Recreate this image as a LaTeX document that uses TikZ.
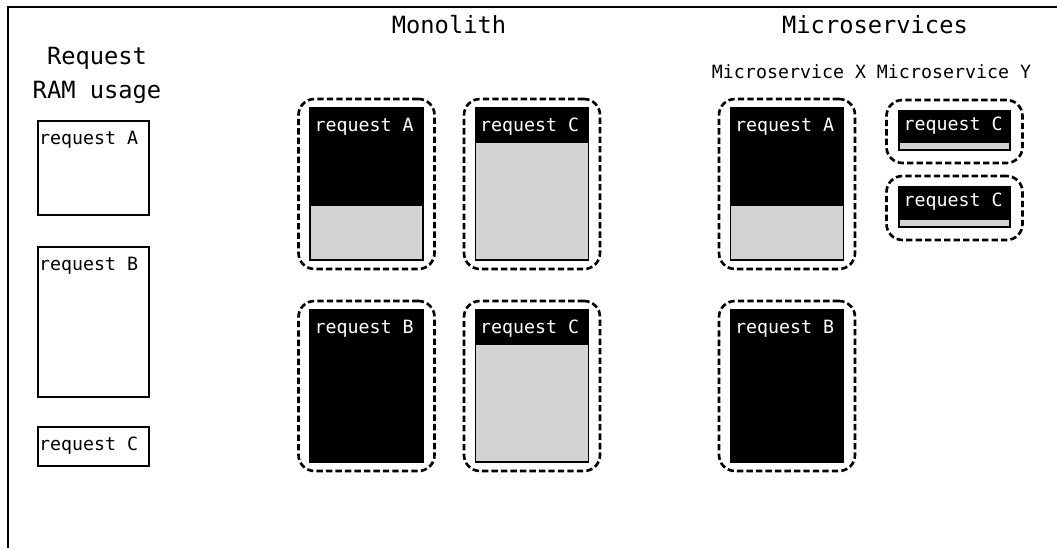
\documentclass[tikz,border=0pt]{standalone}
\usepackage{fontspec}
\setmainfont{DejaVu Sans Mono}
\usepackage{tikz}
\usetikzlibrary{positioning}
\definecolor{memgray}{HTML}{D3D3D3}

\begin{document}
\begin{tikzpicture}[
    heading/.style={font=\fontsize{13.5}{19.8}\selectfont, align=center, inner sep=0pt},
    subheading/.style={font=\fontsize{10.4}{12.5}\selectfont, inner sep=0pt},
    usage/.style={rectangle, draw=black, line width=1.1pt, fill=white,
                  minimum width=2.22cm, minimum height=#1, inner sep=0pt},
    ram/.style={rectangle, draw=black, line width=1.1pt, fill=memgray,
                minimum width=2.26cm, minimum height=#1, inner sep=0pt},
    used/.style={rectangle, draw=black, line width=1.1pt, fill=black,
                 minimum width=2.26cm, minimum height=#1, inner sep=0pt},
    service/.style={rectangle, rounded corners=0.32cm, draw=black, line width=1.5pt,
                    dash pattern=on 3.6pt off 1.8pt, minimum width=2.72cm, minimum height=#1},
    reqlabel/.style={anchor=north west, text=#1, inner xsep=3pt, inner ysep=6pt,
                     font=\fontsize{10.4}{12.5}\selectfont},
]
    \useasboundingbox (0,0) rectangle (21.14,10.96);

    % Frame
    \draw[line width=1.1pt] (0.16,0) -- (0.16,10.82) -- (21.14,10.82);

    % Request RAM usage
    \node[heading] (usagetitle) at (1.94,9.45) {Request\\RAM usage};
    \node[usage=1.88cm] (usageA) at (1.87,7.60) {};
    \node[usage=3.0cm] (usageB) at (1.87,4.52) {};
    \node[usage=0.78cm] (usageC) at (1.87,2.03) {};
    \node[reqlabel=black, inner xsep=1pt] (usageAtxt) at (usageA.north west) {request A};
    \node[reqlabel=black, inner xsep=1pt] (usageBtxt) at (usageB.north west) {request B};
    \node[reqlabel=black, inner xsep=1pt] (usageCtxt) at (usageC.north west) {request C};

    % Monolith
    \node[heading] (monotitle) at (8.98,10.46) {Monolith};

    \node[service=3.4cm] (monoAsvc) at (7.33,7.28) {};
    \node[ram=3.04cm] (monoA) at (7.33,7.28) {};
    \node[used=1.94cm, anchor=north] (monoAuse) at (monoA.north) {};
    \node[reqlabel=white] (monoAtxt) at (monoA.north west) {request A};

    \node[service=3.4cm] (monoCsvc) at (10.64,7.28) {};
    \node[ram=3.04cm] (monoC) at (10.64,7.28) {};
    \node[used=0.68cm, anchor=north] (monoCuse) at (monoC.north) {};
    \node[reqlabel=white] (monoCtxt) at (monoC.north west) {request C};

    \node[service=3.4cm] (monoBsvc) at (7.33,3.24) {};
    \node[used=3.04cm] (monoB) at (7.33,3.24) {};
    \node[reqlabel=white] (monoBtxt) at (monoB.north west) {request B};

    \node[service=3.4cm] (monoC2svc) at (10.64,3.24) {};
    \node[ram=3.04cm] (monoC2) at (10.64,3.24) {};
    \node[used=0.68cm, anchor=north] (monoC2use) at (monoC2.north) {};
    \node[reqlabel=white] (monoC2txt) at (monoC2.north west) {request C};

    % Microservices
    \node[heading] (mstitle) at (17.5,10.46) {Microservices};
    \node[subheading] (msXtitle) at (15.78,9.52) {Microservice X};
    \node[subheading] (msYtitle) at (19.08,9.52) {Microservice Y};

    \node[service=3.4cm] (msXAsvc) at (15.74,7.28) {};
    \node[ram=3.04cm] (msXA) at (15.74,7.28) {};
    \node[used=1.94cm, anchor=north] (msXAuse) at (msXA.north) {};
    \node[reqlabel=white] (msXAtxt) at (msXA.north west) {request A};

    \node[service=3.4cm] (msXBsvc) at (15.74,3.24) {};
    \node[used=3.04cm] (msXB) at (15.74,3.24) {};
    \node[reqlabel=white] (msXBtxt) at (msXB.north west) {request B};

    \node[service=1.26cm] (msYCsvc) at (19.09,8.33) {};
    \node[ram=0.78cm, minimum width=2.22cm] (msYC) at (19.09,8.35) {};
    \node[used=0.62cm, minimum width=2.22cm, anchor=north] (msYCuse) at (msYC.north) {};
    \node[reqlabel=white, inner ysep=4pt] (msYCtxt) at (msYC.north west) {request C};

    \node[service=1.28cm] (msYC2svc) at (19.09,6.80) {};
    \node[ram=0.8cm, minimum width=2.22cm] (msYC2) at (19.09,6.82) {};
    \node[used=0.64cm, minimum width=2.22cm, anchor=north] (msYC2use) at (msYC2.north) {};
    \node[reqlabel=white, inner ysep=4pt] (msYC2txt) at (msYC2.north west) {request C};
\end{tikzpicture}
\end{document}
